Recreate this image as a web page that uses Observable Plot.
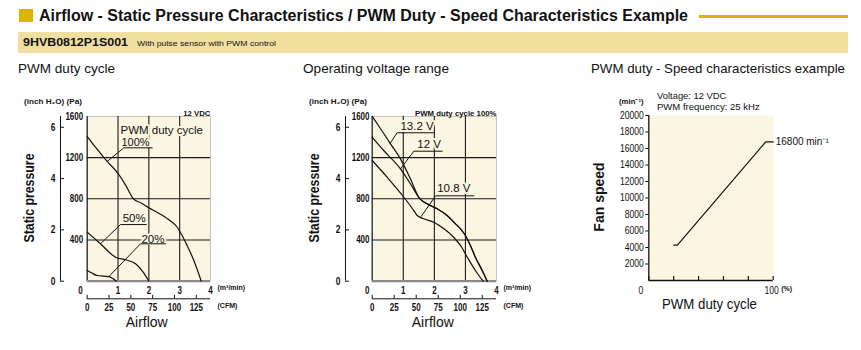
<!DOCTYPE html>
<html><head><meta charset="utf-8">
<script src="https://cdn.jsdelivr.net/npm/d3@7"></script>
<script src="https://cdn.jsdelivr.net/npm/@observablehq/plot@0.6"></script>
<style>
html,body{margin:0;padding:0;background:#fff;}
#root{position:relative;width:861px;height:350px;overflow:hidden;font-family:"Liberation Sans",Arial,Helvetica,sans-serif;color:#111;}
.t{position:absolute;white-space:nowrap;}
.chart{position:absolute;top:80px;}
</style></head><body><div id="root"></div>
<script>
// ---------------- data ----------------
const PA_PER_INCH = 249.089;
const CFM_PER_M3MIN = 35.3147;

// Left: PWM duty cycle (airflow m3/min, static pressure Pa)
const pwm100 = [[0,1405],[0.30,1290],[0.62,1172],[1.0,1046],[1.25,930],[1.50,800],[1.75,760],[2.0,713],[2.22,676],[2.65,596],[2.92,524],[3.08,444],[3.24,347],[3.46,201],[3.70,0]];
const pwm50  = [[0,476],[0.43,363],[0.92,233],[1.24,208],[1.57,169],[1.84,78],[2.0,0]];
const pwm20  = [[0,104],[0.15,80],[0.32,55],[0.70,44],[0.95,0]];

// Middle: Operating voltage range
const v132 = [[0,1600],[0.27,1480],[0.59,1334],[0.91,1188],[1.23,994],[1.50,815],[1.77,751],[2.09,703],[2.41,638],[2.68,557],[2.84,509],[3.0,444],[3.16,347],[3.32,233],[3.54,104],[3.70,0]];
const v120 = [[0,1398],[0.37,1269],[0.91,1091],[1.23,946],[1.55,794],[1.80,746],[2.09,703],[2.41,638],[2.68,557],[2.84,509],[3.0,444],[3.16,347],[3.32,233],[3.54,104],[3.70,0]];
const v108 = [[0,1172],[0.48,1010],[1.02,815],[1.34,686],[1.45,638],[1.66,606],[1.98,573],[2.31,509],[2.62,427],[2.84,347],[3.06,233],[3.32,104],[3.57,0]];

// Right: PWM duty - speed
const duty  = [20, 23, 94, 100];
const speed = [4300, 4300, 16800, 16800];

// ticks
const paTicks = [400, 800, 1200, 1600];
const paGrid = [400, 800, 1200];
const inchTicks = [0, 2, 4, 6];
const flowTicks = [1, 2, 3, 4];
const flowGrid = [1, 2, 3];
const cfmTicks = [0, 25, 50, 75, 100, 125];
const speedTicks = [2000,4000,6000,8000,10000,12000,14000,16000,18000,20000];
const dutyTicks = [0, 20, 40, 60, 80, 100];

// annotations (data units)
const leftNotes = [
  {text: "PWM duty cycle", x: 1.08, y: 1463, size: 11.5},
  {text: "100%", x: 1.11, y: 1349, size: 11},
  {text: "50%", x: 1.15, y: 606, size: 11.5},
  {text: "20%", x: 1.76, y: 407, size: 11.5}
];
const leftLeaders = [
  [[0.65,1163],[1.19,1295],[2.11,1295]],
  [[0.43,363],[1.08,550],[1.92,550]],
  [[0.70,44],[1.73,363],[2.54,363]]
];
const midNotes = [
  {text: "13.2 V", x: 0.91, y: 1504, size: 11.5},
  {text: "12 V", x: 1.45, y: 1329, size: 11.5},
  {text: "10.8 V", x: 2.09, y: 897, size: 11.5}
];
const midLeaders = [
  [[0.57,1334],[0.80,1441],[1.98,1441]],
  [[0.91,1091],[1.34,1262],[2.25,1262]],
  [[1.58,630],[2.04,829],[3.27,829]]
];

// ---------------- rendering ----------------
const SANS = '"Liberation Sans", Arial, sans-serif';
const CREAM = "#faf6e1";
const INK = "#111";
const root = document.getElementById("root");

function box(x, y, w, h, color) {
  const el = document.createElement("div");
  Object.assign(el.style, {position: "absolute", left: x + "px", top: y + "px", width: w + "px", height: h + "px", background: color});
  root.appendChild(el);
}
function addText(txt, o) {
  const el = document.createElement("div");
  el.className = "t";
  el.textContent = txt;
  el.style.fontSize = o.fs + "px";
  el.style.lineHeight = o.fs + "px";
  el.style.fontWeight = o.weight || "normal";
  root.appendChild(el);
  const w0 = el.getBoundingClientRect().width;
  const s = o.w ? o.w / w0 : 1;
  const w = w0 * s;
  if (o.rotate) {
    el.style.left = (o.cx - w0 / 2) + "px";
    el.style.top = (o.cy - o.fs / 2) + "px";
    el.style.transformOrigin = "50% 50%";
    el.style.transform = `rotate(-90deg) scaleX(${s})`;
  } else {
    const left = o.anchor === "middle" ? o.x - w / 2 : o.anchor === "end" ? o.x - w : o.x;
    el.style.left = left + "px";
    el.style.top = (o.base - 0.8465 * o.fs) + "px";
    el.style.transformOrigin = "0 0";
    el.style.transform = `scaleX(${s})`;
  }
}
// horizontally condense axis tick labels (the reference uses a narrow face)
function condense(svg, s) {
  svg.querySelectorAll('g[aria-label$="tick label"] text').forEach(t => {
    const tr = t.getAttribute("transform") || "";
    t.setAttribute("transform", `${tr} scale(${s},1)`);
  });
  return svg;
}
function place(svg, left) {
  const d = document.createElement("div");
  d.className = "chart";
  d.style.left = left + "px";
  d.style.width = svg.getAttribute("width") + "px";
  d.appendChild(svg);
  root.appendChild(d);
}

const tickFont = {fontFamily: SANS, fontSize: 10, fontWeight: "bold", fill: INK, label: null};
const num = d => String(d);

function pressureChart({curves, notes, leaders, topNote, ml, mr, paPad, zeroDx}) {
  const noteOpts = {x: "x", y: "y", text: "text", fontSize: d => d.size, textAnchor: "start", lineAnchor: "middle", fontFamily: SANS};
  return Plot.plot({
    width: 290, height: 270,
    marginTop: 35.9, marginBottom: 69.3, marginLeft: ml, marginRight: mr,
    x: {domain: [0, 4]},
    y: {domain: [0, 1600]},
    style: `background:transparent;overflow:visible;font-family:${SANS};`,
    marks: [
      Plot.frame({fill: CREAM, stroke: "#bdb8a6", strokeWidth: 0.8}),
      Plot.ruleX(flowGrid, {stroke: "#1a1a1a", strokeWidth: 1.1}),
      Plot.ruleY(paGrid, {stroke: "#1a1a1a", strokeWidth: 1.1}),
      Plot.ruleX([0], {stroke: "#1a1a1a", strokeWidth: 1.2}),
      Plot.ruleY([0], {stroke: "#8a8a8a", strokeWidth: 2.2}),
      ...curves.map(c => Plot.line(c, {x: d => d[0], y: d => d[1], stroke: INK, strokeWidth: 1.2, curve: "monotone-x"})),
      Plot.text(notes, {...noteOpts, fill: CREAM, stroke: CREAM, strokeWidth: 4}),
      Plot.text(notes, {...noteOpts, fill: INK}),
      ...leaders.map(l => Plot.line(l, {x: d => d[0], y: d => d[1], stroke: INK, strokeWidth: 1})),
      // Pa axis
      Plot.axisY(paTicks, {anchor: "left", tickSize: 0, tickPadding: paPad, tickFormat: num, ...tickFont}),
      // inch H2O axis
      Plot.ruleX([0], {y1: 0, y2: 1600, dx: -26.7, stroke: INK, strokeWidth: 1}),
      Plot.axisY(inchTicks.map(v => v * PA_PER_INCH), {anchor: "left", tickSize: 4, tickPadding: 5, dx: -22.7,
        tickFormat: d => String(Math.round(d / PA_PER_INCH)), ...tickFont, fontSize: 10.5}),
      // m3/min axis
      Plot.axisX(flowTicks, {anchor: "bottom", tickSize: 0, tickPadding: 5.3, tickFormat: num, ...tickFont}),
      Plot.axisX([0], {anchor: "bottom", tickSize: 0, tickPadding: 5.3, dx: zeroDx, tickFormat: num, ...tickFont}),
      Plot.text([{x: 4, t: "(m³/min)"}], {x: "x", text: "t", frameAnchor: "bottom", dx: 7, dy: 9, textAnchor: "start",
        fontSize: 7, fontWeight: "bold", fontFamily: SANS, fill: INK}),
      // CFM axis
      Plot.ruleY([0], {x1: 0, x2: 4, dy: 17.6, stroke: INK, strokeWidth: 1}),
      Plot.axisX(cfmTicks.map(c => c / CFM_PER_M3MIN), {anchor: "bottom", tickSize: 3.5, dy: 14.1, tickPadding: 5.5,
        tickFormat: d => String(Math.round(d * CFM_PER_M3MIN)), ...tickFont}),
      Plot.text([{x: 4, t: "(CFM)"}], {x: "x", text: "t", frameAnchor: "bottom", dx: 7, dy: 27, textAnchor: "start",
        fontSize: 7, fontWeight: "bold", fontFamily: SANS, fill: INK}),
      // condition note
      Plot.text([topNote], {frameAnchor: "top-right", dy: -6, text: d => d, textAnchor: "end",
        fontSize: 7.8, fontWeight: "bold", fontFamily: SANS, fill: INK})
    ]
  });
}

function speedChart() {
  const pts = duty.map((d, i) => ({d, s: speed[i]}));
  return Plot.plot({
    width: 281, height: 270,
    marginTop: 35, marginBottom: 70, marginLeft: 68.3, marginRight: 88.3,
    x: {domain: [0, 100]},
    y: {domain: [0, 20000]},
    style: `background:transparent;overflow:visible;font-family:${SANS};`,
    marks: [
      Plot.frame({fill: CREAM, stroke: "none"}),
      Plot.ruleX([0], {y1: 0, y2: 20000, stroke: INK, strokeWidth: 1.3}),
      Plot.ruleY([0], {x1: 0, x2: 100, stroke: INK, strokeWidth: 1.3}),
      Plot.axisY(speedTicks, {anchor: "left", tickSize: 3, tickPadding: 2, tickFormat: num, ...tickFont, fontWeight: "normal"}),
      Plot.axisX(dutyTicks, {anchor: "bottom", tickSize: 4, dy: -4, tickFormat: () => "", label: null, strokeWidth: 1.2}),
      Plot.axisX([100], {anchor: "bottom", tickSize: 0, tickPadding: 6, dx: -1.5, tickFormat: num, ...tickFont, fontWeight: "normal"}),
      Plot.axisX([0], {anchor: "bottom", tickSize: 0, tickPadding: 6, dx: -7.8, tickFormat: num, ...tickFont, fontWeight: "normal"}),
      Plot.text([{x: 100, t: "(%)"}], {x: "x", text: "t", frameAnchor: "bottom", dx: 8, dy: 10, textAnchor: "start",
        fontSize: 7, fontWeight: "bold", fontFamily: SANS, fill: INK}),
      Plot.line(pts, {x: "d", y: "s", stroke: INK, strokeWidth: 1.2}),
      Plot.text([pts[pts.length - 1]], {x: "d", y: "s", text: d => `${d.s} min⁻¹`, dx: 2.5, textAnchor: "start",
        fontSize: 10, fontFamily: SANS, fill: INK})
    ]
  });
}

// header
box(19, 9, 14, 13, "#dab600");
addText("Airflow - Static Pressure Characteristics / PWM Duty - Speed Characteristics Example", {x: 39, base: 21.8, fs: 16, weight: "bold", w: 649});
box(699, 14.5, 149, 3.5, "#d8b400");
box(18, 32, 830, 21, "#f0df9e");
addText("9HVB0812P1S001", {x: 22.7, base: 46, fs: 11, weight: "bold", w: 105});
addText("With pulse sensor with PWM control", {x: 137, base: 46, fs: 7.5, w: 139});

// panel titles
addText("PWM duty cycle", {x: 18, base: 73.5, fs: 13, w: 97});
addText("Operating voltage range", {x: 303, base: 73.5, fs: 13, w: 146});
addText("PWM duty - Speed characteristics example", {x: 591, base: 73.5, fs: 13, w: 254});

// charts
place(condense(pressureChart({curves: [pwm100, pwm50, pwm20], notes: leftNotes, leaders: leftLeaders, topNote: "12 VDC",
  ml: 86.7, mr: 80, paPad: 4, zeroDx: -6.7}), 0.8), 0);
place(condense(pressureChart({curves: [v132, v120, v108], notes: midNotes, leaders: midLeaders, topNote: "PWM duty cycle 100%",
  ml: 81.7, mr: 84, paPad: 2.7, zeroDx: -5}), 0.8), 290);
place(condense(speedChart(), 0.86), 580);

// axis units and titles
addText("(inch H₂O)  (Pa)", {x: 24, base: 104.5, fs: 7.5, weight: "bold", w: 58});
addText("(inch H₂O)  (Pa)", {x: 308.5, base: 104.5, fs: 7.5, weight: "bold", w: 58});
addText("(min⁻¹)", {x: 619.3, base: 104.5, fs: 7.5, weight: "bold", w: 24.7});
addText("Voltage: 12 VDC", {x: 657.3, base: 99.3, fs: 9, w: 69.4});
addText("PWM frequency: 25 kHz", {x: 657.3, base: 111, fs: 9, w: 102.7});

addText("Static pressure", {rotate: true, cx: 28.4, cy: 197.5, fs: 14, weight: "bold", w: 89});
addText("Static pressure", {rotate: true, cx: 313.5, cy: 197.5, fs: 14, weight: "bold", w: 89});
addText("Fan speed", {rotate: true, cx: 598.3, cy: 197, fs: 14, weight: "bold"});
addText("Airflow", {x: 146.7, base: 326.8, fs: 14, anchor: "middle"});
addText("Airflow", {x: 432.8, base: 326.8, fs: 14, anchor: "middle"});
addText("PWM duty cycle", {x: 709, base: 308.5, fs: 14, anchor: "middle", w: 95});
</script></body></html>
